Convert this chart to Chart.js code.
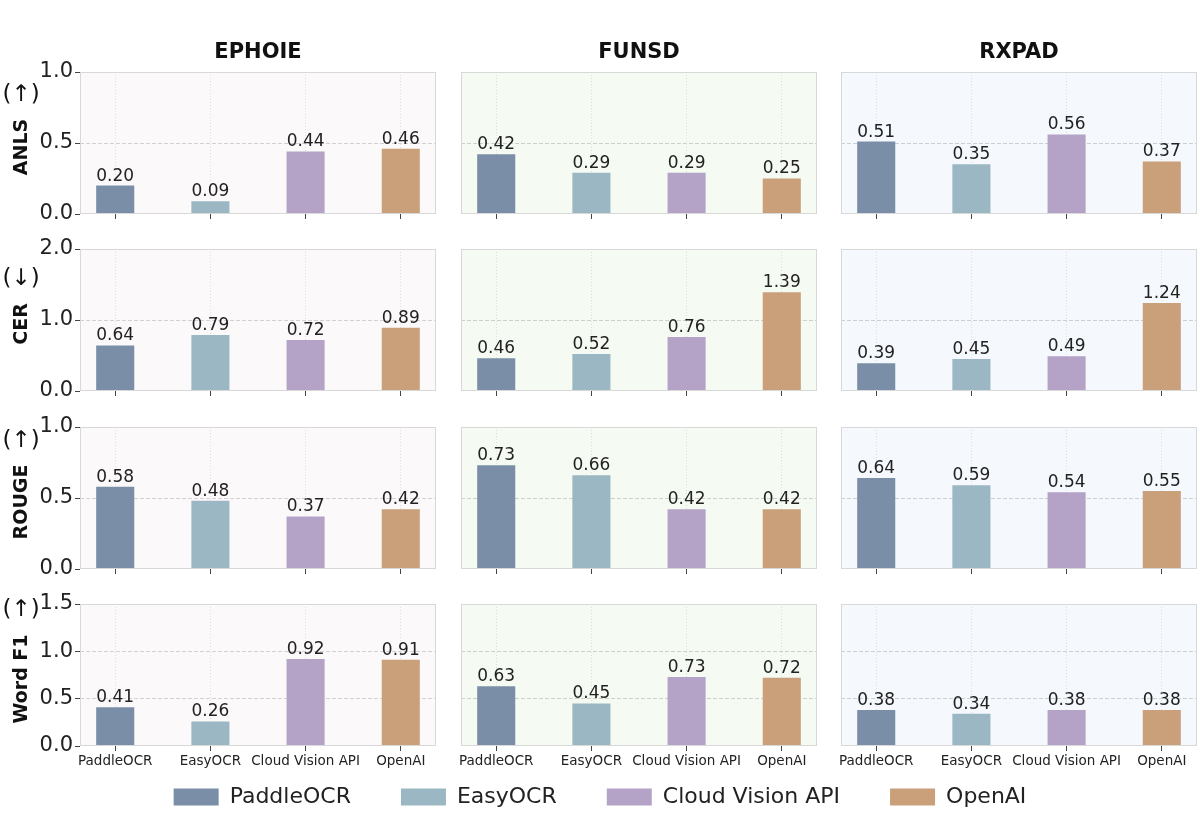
<!DOCTYPE html>
<html>
<head>
<meta charset="utf-8">
<script src="https://cdn.jsdelivr.net/npm/chart.js@4.4.1/dist/chart.umd.min.js"></script>
<style>
  body { margin: 0; background: #fff; width: 1200px; height: 831px; position: relative; overflow: hidden; }
  canvas { position: absolute; }
</style>
</head>
<body>
<script>
// categories
const models = ["PaddleOCR", "EasyOCR", "Cloud Vision API", "OpenAI"];
const datasetNames = ["EPHOIE", "FUNSD", "RXPAD"];
const metricNames = ["ANLS", "CER", "ROUGE", "Word F1"];
const metricArrows = ["(↑)", "(↓)", "(↑)", "(↑)"];

// values per dataset: EPHOIE, FUNSD, RXPAD
const anls = [[0.20, 0.09, 0.44, 0.46], [0.42, 0.29, 0.29, 0.25], [0.51, 0.35, 0.56, 0.37]];
const cer = [[0.64, 0.79, 0.72, 0.89], [0.46, 0.52, 0.76, 1.39], [0.39, 0.45, 0.49, 1.24]];
const rouge = [[0.58, 0.48, 0.37, 0.42], [0.73, 0.66, 0.42, 0.42], [0.64, 0.59, 0.54, 0.55]];
const wordF1 = [[0.41, 0.26, 0.92, 0.91], [0.63, 0.45, 0.73, 0.72], [0.38, 0.34, 0.38, 0.38]];
const metricValues = [anls, cer, rouge, wordF1];

// y axis ticks
const yMax = [1.0, 2.0, 1.0, 1.5];
const yStep = [0.5, 1.0, 0.5, 0.5];

const barColors = ["#7a8fa7", "#9cb7c4", "#b4a3c7", "#c9a07a"];
const panelBg = ["#fcf9fa", "#f5faf3", "#f5f8fc"];

// layout of the grid (plot areas)
const colLeft = [80, 461, 841];
const rowTop = [72, 249, 427, 604];
const plotW = 356, plotH = 142;
const padTop = 30, padSide = 12;

const FONT = '"DejaVu Sans", sans-serif';

const deco = {
  id: "deco",
  beforeDraw(chart, args, o) {
    const { ctx, chartArea: a } = chart;
    ctx.save();
    ctx.fillStyle = o.bg;
    ctx.fillRect(a.left, a.top, a.width, a.height);
    ctx.restore();
  },
  afterDatasetsDraw(chart, args, o) {
    const { ctx } = chart;
    const meta = chart.getDatasetMeta(0);
    const vals = chart.data.datasets[0].data;
    ctx.save();
    ctx.font = "17px " + FONT;
    ctx.fillStyle = "#222";
    ctx.textAlign = "center";
    ctx.textBaseline = "bottom";
    meta.data.forEach((bar, i) => {
      ctx.fillText(vals[i].y.toFixed(2), bar.x, bar.y - 1);
    });
    ctx.restore();
  },
  afterDraw(chart, args, o) {
    const { ctx, chartArea: a } = chart;
    ctx.save();
    ctx.strokeStyle = "#d8d8d8";
    ctx.lineWidth = 1;
    ctx.strokeRect(a.left + 0.5, a.top + 0.5, a.width - 1, a.height - 1);
    ctx.fillStyle = "#111";
    if (o.title) {
      ctx.font = "bold 21px " + FONT;
      ctx.textAlign = "center";
      ctx.textBaseline = "middle";
      ctx.fillText(o.title, (a.left + a.right) / 2, a.top - 19);
    }
    if (o.metric) {
      const cy = (a.top + a.bottom) / 2 + 4;
      ctx.font = "bold 19px " + FONT;
      const w = ctx.measureText(o.metric).width;
      ctx.save();
      ctx.translate(padSide + 22, cy);
      ctx.rotate(-Math.PI / 2);
      ctx.textAlign = "center";
      ctx.textBaseline = "middle";
      ctx.fillText(o.metric, 0, 0);
      ctx.restore();
      ctx.font = "23px " + FONT;
      ctx.textAlign = "center";
      ctx.textBaseline = "middle";
      ctx.fillText(o.arrow, padSide + 21, cy - w / 2 - 24);
    }
    ctx.restore();
  }
};

function makePanel(r, c) {
  const yW = c === 0 ? 80 : 0;
  const xH = r === 3 ? 32 : 6;
  const canvas = document.createElement("canvas");
  canvas.width = padSide + yW + plotW + padSide;
  canvas.height = padTop + plotH + xH;
  canvas.style.left = (colLeft[c] - yW - padSide) + "px";
  canvas.style.top = (rowTop[r] - padTop) + "px";
  document.body.appendChild(canvas);

  const vals = metricValues[r][c];
  new Chart(canvas, {
    type: "bar",
    data: {
      datasets: [{
        data: vals.map((v, i) => ({ x: i, y: v })),
        backgroundColor: barColors,
        borderWidth: 0,
        barPercentage: 0.4,
        categoryPercentage: 1.0
      }]
    },
    options: {
      responsive: false,
      animation: false,
      layout: { padding: { top: padTop, left: padSide, right: padSide, bottom: 0 } },
      plugins: {
        legend: { display: false },
        tooltip: { enabled: false },
        deco: {
          bg: panelBg[c],
          title: r === 0 ? datasetNames[c] : "",
          metric: c === 0 ? metricNames[r] : "",
          arrow: metricArrows[r]
        }
      },
      scales: {
        x: {
          type: "linear",
          min: -0.37,
          max: 3.37,
          offset: false,
          afterBuildTicks: (axis) => { axis.ticks = models.map((m, i) => ({ value: i })); },
          afterFit: (axis) => { axis.height = xH; axis.paddingLeft = 0; axis.paddingRight = 0; },
          ticks: {
            display: r === 3,
            autoSkip: false,
            maxRotation: 0,
            padding: 2,
            color: "#222",
            font: { size: 13.5, family: FONT },
            callback: (v) => models[v]
          },
          grid: {
            offset: false,
            color: "rgba(0,0,0,0.10)",
            tickColor: "#444",
            tickLength: 5,
            tickBorderDash: []
          },
          border: { display: false, dash: [1, 2] }
        },
        y: {
          min: 0,
          max: yMax[r],
          afterFit: (axis) => { axis.width = yW; axis.paddingTop = 0; axis.paddingBottom = 0; },
          ticks: {
            display: c === 0,
            stepSize: yStep[r],
            padding: 2,
            color: "#222",
            font: { size: 21, family: FONT },
            callback: (v) => v.toFixed(1)
          },
          grid: {
            drawTicks: c === 0,
            color: (ctx) => (ctx.tick && (ctx.tick.value === 0 || ctx.tick.value === yMax[r])) ? "rgba(0,0,0,0)" : "rgba(0,0,0,0.16)",
            tickColor: "#444",
            tickLength: 5,
            tickBorderDash: []
          },
          border: { display: false, dash: [4, 2] }
        }
      }
    },
    plugins: [deco]
  });
}

for (let r = 0; r < metricNames.length; r++) {
  for (let c = 0; c < datasetNames.length; c++) {
    makePanel(r, c);
  }
}

// shared legend (tall canvas so the padded legend box is not cut off)
const lg = document.createElement("canvas");
lg.width = 1200;
lg.height = 260;
lg.style.left = "0px";
lg.style.top = "736px";
document.body.appendChild(lg);
new Chart(lg, {
  type: "bar",
  data: {
    labels: [""],
    datasets: models.map((m, i) => ({ label: m, data: [null], backgroundColor: barColors[i], borderWidth: 0 }))
  },
  options: {
    responsive: false,
    animation: false,
    plugins: {
      tooltip: { enabled: false },
      legend: {
        position: "top",
        labels: {
          boxWidth: 45,
          boxHeight: 17,
          padding: 50,
          color: "#222",
          font: { size: 22, family: FONT }
        }
      }
    },
    scales: { x: { display: false }, y: { display: false } }
  }
});
</script>
</body>
</html>
